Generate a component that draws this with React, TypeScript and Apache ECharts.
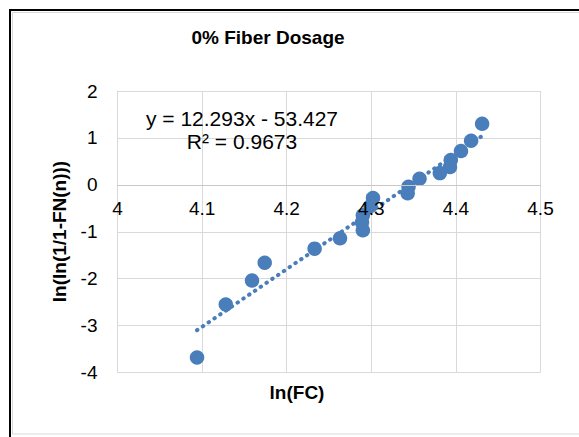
import React, { useEffect, useRef } from "react";
import * as echarts from "echarts";

const lnFC = [4.094, 4.128, 4.159, 4.174, 4.233, 4.263, 4.290, 4.289, 4.290, 4.299, 4.302, 4.343, 4.344, 4.357, 4.381, 4.393, 4.394, 4.406, 4.418, 4.431];
const lnLn = [-3.68, -2.55, -2.04, -1.66, -1.36, -1.14, -0.97, -0.80, -0.65, -0.45, -0.28, -0.18, -0.04, 0.13, 0.25, 0.38, 0.53, 0.72, 0.94, 1.30];
const slope = 12.293;
const intercept = -53.427;
const eqLabel = "y = 12.293x - 53.427";
const r2Label = "R² = 0.9673";
const chartTitle = "0% Fiber Dosage";
const xName = "ln(FC)";
const yName = "ln(ln(1/1-FN(n)))";

const FONT = "Arial, 'Liberation Sans', sans-serif";
const BLUE = "#4a7ebb";

export default function App() {
  const ref = useRef<HTMLDivElement>(null);
  useEffect(() => {
    if (!ref.current) return;
    const chart = echarts.init(ref.current, undefined, { renderer: "svg" });
    const pts = lnFC.map((x, i) => [x, lnLn[i]]);
    const xMin = Math.min(...lnFC);
    const xMax = Math.max(...lnFC);
    const trend = [
      [xMin, slope * xMin + intercept],
      [xMax, slope * xMax + intercept],
    ];
    const gridTop = 91;
    const gridBottom = 64.5;
    const plotH = 437 - gridTop - gridBottom;
    const zeroFromTop = (plotH * (2 - 0)) / (2 - -4);
    chart.setOption({
      animation: false,
      backgroundColor: "#fff",
      grid: { left: 117.5, right: 38.5, top: gridTop, bottom: gridBottom },
      xAxis: [
        {
          type: "value",
          min: 4,
          max: 4.5,
          interval: 0.1,
          position: "bottom",
          axisLine: { show: false },
          axisTick: { show: false },
          axisLabel: { show: false },
          splitLine: { show: true, lineStyle: { color: "#d9d9d9", width: 1 } },
        },
        {
          type: "value",
          min: 4,
          max: 4.5,
          interval: 0.1,
          position: "top",
          offset: -zeroFromTop,
          z: 10,
          axisLine: { show: true, onZero: false, lineStyle: { color: "#c8c8c8", width: 1 } },
          axisTick: { show: false },
          splitLine: { show: false },
          axisLabel: {
            inside: true,
            color: "#000",
            fontFamily: FONT,
            fontSize: 19,
            margin: 14,
            formatter: (v: number) => String(Math.round(v * 10) / 10),
          },
        },
      ],
      yAxis: {
        type: "value",
        min: -4,
        max: 2,
        interval: 1,
        axisLine: { show: true, lineStyle: { color: "#d9d9d9", width: 1 } },
        axisTick: { show: false },
        splitLine: { show: true, lineStyle: { color: "#d9d9d9", width: 1 } },
        axisLabel: { color: "#000", fontFamily: FONT, fontSize: 19, margin: 20 },
      },
      series: [
        {
          type: "line",
          data: trend,
          symbol: "none",
          lineStyle: { color: BLUE, width: 4, type: [0.5, 6.5], cap: "round" },
          z: 3,
        },
        {
          type: "scatter",
          data: pts,
          symbol: "circle",
          symbolSize: 14.5,
          itemStyle: { color: BLUE, opacity: 1 },
          z: 4,
        },
      ],
      graphic: [
        { type: "rect", shape: { x: 12.5, y: 12.5, width: 620, height: 421.5 }, style: { fill: "none", stroke: "#d9d9d9", lineWidth: 1 }, silent: true },
        { type: "line", shape: { x1: 10, y1: 9, x2: 10, y2: 437 }, style: { stroke: "#000", lineWidth: 2 }, silent: true },
        { type: "line", shape: { x1: 9, y1: 10, x2: 579, y2: 10 }, style: { stroke: "#000", lineWidth: 2 }, silent: true },
        { type: "text", x: 268, y: 37, style: { text: chartTitle, font: `bold 19px ${FONT}`, fill: "#000", textAlign: "center", textVerticalAlign: "middle" } },
        { type: "text", x: 242, y: 118, style: { text: eqLabel, font: `21px ${FONT}`, fill: "#000", textAlign: "center", textVerticalAlign: "middle" }, z: 10 },
        { type: "text", x: 242, y: 141, style: { text: r2Label, font: `21px ${FONT}`, fill: "#000", textAlign: "center", textVerticalAlign: "middle" }, z: 10 },
        { type: "text", x: 297, y: 392, style: { text: xName, font: `bold 19px ${FONT}`, fill: "#000", textAlign: "center", textVerticalAlign: "middle" } },
        { type: "text", x: 59, y: 231.5, rotation: Math.PI / 2, style: { text: yName, font: `bold 19px ${FONT}`, fill: "#000", textAlign: "center", textVerticalAlign: "middle" } },
      ],
    });
    return () => chart.dispose();
  }, []);
  return <div ref={ref} style={{ position: "fixed", left: 0, top: 0, width: 579, height: 437 }} />;
}
